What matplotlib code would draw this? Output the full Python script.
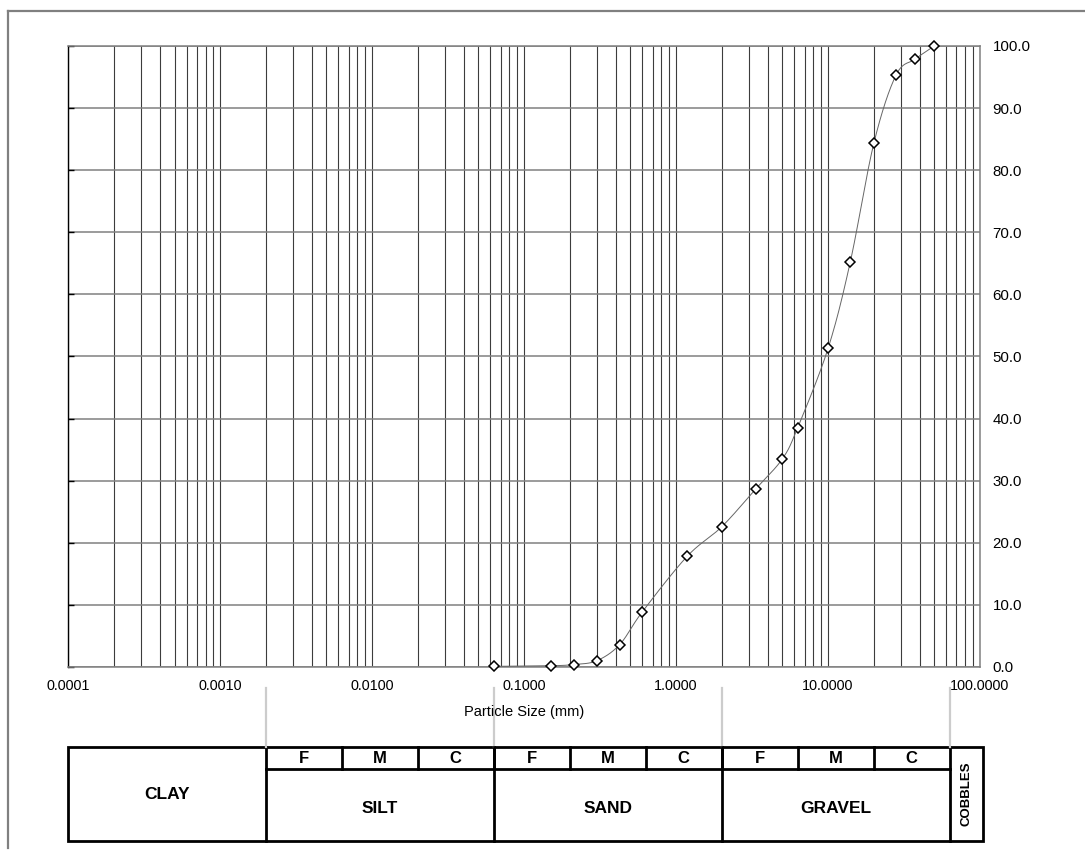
import numpy as np
import matplotlib
matplotlib.use("Agg")
import matplotlib.pyplot as plt
from matplotlib.lines import Line2D
from matplotlib.patches import Rectangle
from matplotlib.ticker import FixedLocator, LogLocator, NullFormatter

plt.rcParams['font.family'] = ['Liberation Sans', 'DejaVu Sans']

# Particle size distribution (sieve analysis)
sieve_mm = [0.063, 0.15, 0.212, 0.3, 0.425, 0.6, 1.18, 2.0, 3.35,
            5.0, 6.3, 10.0, 14.0, 20.0, 28.0, 37.5, 50.0]
passing_pct = [0.1, 0.2, 0.4, 1.0, 3.6, 8.9, 17.8, 22.6, 28.7,
               33.5, 38.5, 51.3, 65.2, 84.3, 95.3, 97.9, 100.0]

x_ticks = [0.0001, 0.001, 0.01, 0.1, 1.0, 10.0, 100.0]
x_tick_labels = ['0.0001', '0.0010', '0.0100', '0.1000', '1.0000', '10.0000', '100.0000']
y_ticks = [0, 10, 20, 30, 40, 50, 60, 70, 80, 90, 100]
y_tick_labels = ['0.0', '10.0', '20.0', '30.0', '40.0', '50.0',
                 '60.0', '70.0', '80.0', '90.0', '100.0']

# Soil classification bands (mm)
main_bounds = [0.002, 0.063, 2.0, 63.0]
main_names = ['CLAY', 'SILT', 'SAND', 'GRAVEL', 'COBBLES']
sub_bounds = [0.002, 0.0063, 0.02, 0.063, 0.2, 0.63, 2.0, 6.3, 20.0, 63.0]
sub_names = ['F', 'M', 'C', 'F', 'M', 'C', 'F', 'M', 'C']

W, H = 1085, 855
fig = plt.figure(figsize=(W / 100, H / 100), dpi=100)


def fx(px):
    return px / W


def fy(py):
    return 1 - py / H


# plot area in pixels
AX_L, AX_R, AX_T, AX_B = 68.3, 980.0, 46.0, 667.0
ax = fig.add_axes([fx(AX_L), fy(AX_B), (AX_R - AX_L) / W, (AX_B - AX_T) / H])
ax.set_xscale('log')
ax.set_xlim(x_ticks[0], x_ticks[-1])
ax.set_ylim(y_ticks[0], y_ticks[-1])

ax.xaxis.set_major_locator(FixedLocator(x_ticks))
ax.xaxis.set_minor_locator(LogLocator(base=10, subs=np.arange(2, 10), numticks=100))
ax.xaxis.set_minor_formatter(NullFormatter())
ax.set_xticklabels(x_tick_labels)
ax.yaxis.set_major_locator(FixedLocator(y_ticks))
ax.set_yticklabels(y_tick_labels)

ax.grid(axis='x', which='both', color='#3c3c3c', lw=0.8)
ax.grid(axis='y', which='major', color='#808080', lw=1.1)
ax.set_axisbelow(True)
ax.tick_params(axis='x', which='both', length=0, pad=8.5, labelsize=10.4)
ax.tick_params(axis='y', which='major', left=True, right=False, direction='in',
               length=4, width=1, color='black', labelleft=False, labelright=True,
               labelsize=10.8, pad=9)
for side in ('top', 'right', 'bottom'):
    ax.spines[side].set_color('#808080')
    ax.spines[side].set_linewidth(1.1)
ax.spines['left'].set_color('black')
ax.spines['left'].set_linewidth(1.0)

# smoothed grading curve (Bezier through points, log-x space)
u = np.log10(np.asarray(sieve_mm))
v = np.asarray(passing_pct, dtype=float)
pts = np.column_stack([u, v])
ext = np.vstack([pts[0], pts, pts[-1]])
t = np.linspace(0, 1, 40)[:, None]
segs = []
for i in range(len(pts) - 1):
    p0, p1, p2, p3 = ext[i], ext[i + 1], ext[i + 2], ext[i + 3]
    c1 = p1 + (p2 - p0) / 6.0
    c2 = p2 - (p3 - p1) / 6.0
    seg = ((1 - t) ** 3) * p1 + 3 * ((1 - t) ** 2) * t * c1 + 3 * (1 - t) * t ** 2 * c2 + t ** 3 * p2
    segs.append(seg if i == 0 else seg[1:])
curve = np.vstack(segs)
ax.plot(10 ** curve[:, 0], curve[:, 1], color='#666666', lw=0.7, zorder=4)
ax.plot(sieve_mm, passing_pct, ls='none', marker='D', ms=5.0, mfc='white',
        mec='black', mew=1.1, zorder=5, clip_on=False)

fig.text(fx(524), fy(712), 'Particle Size (mm)', ha='center', va='center', fontsize=10.5)

# classification table
TB_T, TB_B, TB_R = 747.0, 841.0, 983.0
SUB_Y = 769.0
tab = fig.add_axes([fx(AX_L), fy(TB_B), (TB_R - AX_L) / W, (TB_B - TB_T) / H])
tab.set_xscale('log')
decades = np.log10(x_ticks[-1]) - np.log10(x_ticks[0])
x_right = 10 ** (np.log10(x_ticks[0]) + decades * (TB_R - AX_L) / (AX_R - AX_L))
tab.set_xlim(x_ticks[0], x_right)
tab.set_ylim(0, 1)
tab.axis('off')

lw_tab = 2.0
sub_y = (TB_B - SUB_Y) / (TB_B - TB_T)
conn_top = (TB_B - 688.0) / (TB_B - TB_T)
tab.add_patch(Rectangle((0, 0), 1, 1, transform=tab.transAxes, fill=False,
                        ec='black', lw=lw_tab, clip_on=False))
for b in main_bounds:
    tab.plot([b, b], [0, 1], color='black', lw=lw_tab, clip_on=False, solid_capstyle='projecting')
    tab.plot([b, b], [1, conn_top], color='#cccccc', lw=1.6, clip_on=False)
tab.plot([sub_bounds[0], sub_bounds[-1]], [sub_y, sub_y], color='black', lw=lw_tab, clip_on=False)
for b in sub_bounds[1:-1]:
    tab.plot([b, b], [sub_y, 1], color='black', lw=lw_tab, clip_on=False)

for i, name in enumerate(sub_names):
    xc = 10 ** ((np.log10(sub_bounds[i]) + np.log10(sub_bounds[i + 1])) / 2)
    tab.text(xc, (1 + sub_y) / 2, name, ha='center', va='center', fontsize=12, fontweight='bold')

edges = [x_ticks[0]] + main_bounds + [x_right]
for i, name in enumerate(main_names):
    xc = 10 ** ((np.log10(edges[i]) + np.log10(edges[i + 1])) / 2)
    if name == 'CLAY':
        tab.text(xc, 0.49, name, ha='center', va='center', fontsize=12.5, fontweight='bold')
    elif name == 'COBBLES':
        tab.text(xc, 0.5, name, ha='center', va='center', fontsize=9.5,
                 fontweight='bold', rotation=90)
    else:
        tab.text(xc, 0.35, name, ha='center', va='center', fontsize=12.5, fontweight='bold')

# outer frame
fig.add_artist(Line2D([fx(8), 1.0], [fy(11), fy(11)], transform=fig.transFigure,
                      color='#808080', lw=1.6))
fig.add_artist(Line2D([fx(8), fx(8)], [fy(11), fy(848)], transform=fig.transFigure,
                      color='#808080', lw=1.6))

fig.savefig('out.png', dpi=100)
